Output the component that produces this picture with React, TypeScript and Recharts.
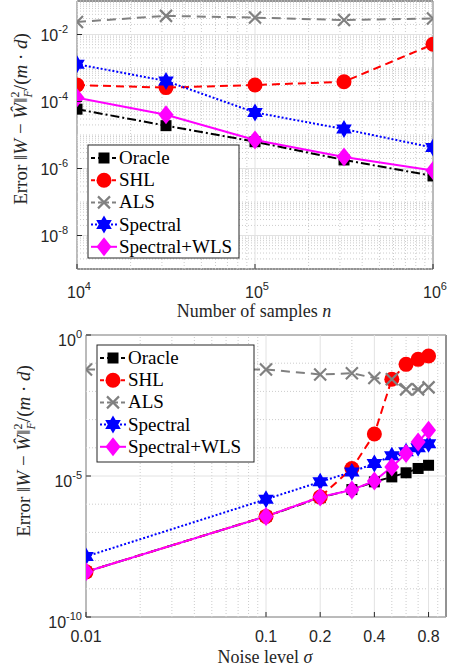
import React from "react";
import {
  LineChart,
  Line,
  XAxis,
  YAxis,
  ReferenceLine,
  ReferenceArea,
} from "recharts";

// ---------- top panel: error vs number of samples ----------
const samplesN = [1e4, 31623, 1e5, 316228, 1e6];
const nOracle = [5.9e-5, 1.9e-5, 6.3e-6, 1.8e-6, 6.0e-7];
const nSHL = [3.1e-4, 2.6e-4, 3.1e-4, 3.9e-4, 5.1e-3];
const nALS = [0.0237, 0.036, 0.032, 0.027, 0.03];
const nSpectral = [1.3e-3, 4.1e-4, 4.7e-5, 1.5e-5, 4.2e-6];
const nWLS = [1.3e-4, 4.0e-5, 7.1e-6, 2.2e-6, 8.7e-7];

const nTicksX = [1e4, 1e5, 1e6];
const nTicksY = [1e-8, 1e-6, 1e-4, 1e-2];

// ---------- bottom panel: error vs noise level ----------
const noiseSigma = [0.01, 0.1, 0.2, 0.3, 0.4, 0.5, 0.6, 0.7, 0.8];
const sOracle = [4e-9, 3.7e-7, 1.7e-6, 3.3e-6, 6.2e-6, 9.3e-6, 1.3e-5, 1.85e-5, 2.4e-5];
const sSHL = [4e-9, 3.7e-7, 1.8e-6, 1.85e-5, 3.1e-4, 0.027, 0.091, 0.137, 0.18];
const sALS = [0.06, 0.06, 0.04, 0.044, 0.03, 0.027, 0.0118, 0.0118, 0.0139];
const sSpectral = [1.4e-8, 1.5e-6, 6.2e-6, 1.4e-5, 2.8e-5, 5.2e-5, 7.2e-5, 1.0e-4, 1.4e-4];
const sWLS = [4e-9, 3.7e-7, 1.8e-6, 3.2e-6, 6.7e-6, 2.1e-5, 6.3e-5, 1.6e-4, 4.2e-4];

const sTicksX = [0.01, 0.1, 0.2, 0.4, 0.8];
const sTicksY = [1e-10, 1e-5, 1];

const seriesNames = ["Oracle", "SHL", "ALS", "Spectral", "Spectral+WLS"];
const seriesKeys = ["oracle", "shl", "als", "spectral", "wls"];

const AXIS = "#262626";
const SERIF = "'Liberation Serif', 'Times New Roman', serif";
const SANS = "'Liberation Sans', Arial, sans-serif";
const MAJOR = "#e2e2e2";
const MINOR = "#cccccc";

const styles: Record<string, { color: string; dash?: string; marker: string }> = {
  oracle: { color: "#000000", dash: "9 3 2 3", marker: "square" },
  shl: { color: "#ff0000", dash: "8 5", marker: "circle" },
  als: { color: "#808080", dash: "9 6", marker: "x" },
  spectral: { color: "#0000ff", dash: "2 2", marker: "star" },
  wls: { color: "#ff00ff", marker: "diamond" },
};

const buildRows = (xs: number[], cols: number[][]) =>
  xs.map((x, i) => {
    const row: Record<string, number> = { x };
    seriesKeys.forEach((k, j) => (row[k] = cols[j][i]));
    return row;
  });

const samplesData = buildRows(samplesN, [nOracle, nSHL, nALS, nSpectral, nWLS]);
const noiseData = buildRows(noiseSigma, [sOracle, sSHL, sALS, sSpectral, sWLS]);

// log grid helpers
const decades = (lo: number, hi: number) => {
  const out: number[] = [];
  for (let e = lo; e <= hi; e++) out.push(Math.pow(10, e));
  return out;
};
const minorsOf = (lo: number, hi: number) => {
  const out: number[] = [];
  for (let e = lo; e < hi; e++) for (let m = 2; m <= 9; m++) out.push(m * Math.pow(10, e));
  return out;
};

// grid values
const nGridYMinor = [...minorsOf(-9, -1), ...decades(-9, -1).filter((v) => !nTicksY.includes(v))];
const nGridXMinor = minorsOf(4, 6);
const sGridYMinor = decades(-10, 0).filter((v) => !sTicksY.includes(v));
const sGridXMinor = [...minorsOf(-2, -1), 0.3, 0.5, 0.6, 0.7, 0.9];

const Marker = ({ kind, cx, cy, color }: { kind: string; cx: number; cy: number; color: string }) => {
  if (cx == null || cy == null || isNaN(cx) || isNaN(cy)) return null;
  if (kind === "square")
    return <rect x={cx - 5.5} y={cy - 5.5} width={11} height={11} fill={color} />;
  if (kind === "circle") return <circle cx={cx} cy={cy} r={7.5} fill={color} />;
  if (kind === "x")
    return (
      <path
        d={`M${cx - 6},${cy - 6}L${cx + 6},${cy + 6}M${cx - 6},${cy + 6}L${cx + 6},${cy - 6}`}
        stroke={color}
        strokeWidth={2.2}
      />
    );
  if (kind === "star") {
    const R = 9;
    const pts = Array.from({ length: 12 }, (_, k) => {
      const a = ((-90 + 30 * k) * Math.PI) / 180;
      const r = k % 2 === 0 ? R : R / Math.sqrt(3);
      return `${cx + r * Math.cos(a)},${cy + r * Math.sin(a)}`;
    }).join(" ");
    return <polygon points={pts} fill={color} />;
  }
  return (
    <polygon
      points={`${cx},${cy - 9.5} ${cx + 7.5},${cy} ${cx},${cy + 9.5} ${cx - 7.5},${cy}`}
      fill={color}
    />
  );
};

const PowTickX = ({ x, y, payload }: any) => {
  const e = Math.round(Math.log10(payload.value));
  return (
    <g>
      <line x1={x} x2={x} y1={y} y2={y - 5} stroke={AXIS} />
      <text x={x + 2} y={y + 29} textAnchor="middle" fontFamily={SANS} fontSize={16} fill={AXIS}>
        <tspan>10</tspan>
        <tspan dy={-8} fontSize={11}>{e}</tspan>
      </text>
    </g>
  );
};

const makePowTickY = (gap: number, dyBase: number) => ({ x, y, payload }: any) => {
  const e = Math.round(Math.log10(payload.value));
  return (
    <g>
      <line x1={x} x2={x + 5} y1={y} y2={y} stroke={AXIS} />
      <text x={x - gap} y={y + dyBase} textAnchor="end" fontFamily={SANS} fontSize={16} fill={AXIS}>
        <tspan>10</tspan>
        <tspan dy={-8} fontSize={11}>{e}</tspan>
      </text>
    </g>
  );
};

const PlainTickX = ({ x, y, payload }: any) => (
  <g>
    <line x1={x} x2={x} y1={y} y2={y - 5} stroke={AXIS} />
    <text x={x} y={y + 25} textAnchor="middle" fontFamily={SANS} fontSize={16} fill={AXIS}>
      {payload.value}
    </text>
  </g>
);

const gridLines = (xMinor: number[], xMajor: number[], yMinor: number[], yMajor: number[]) => [
  ...xMinor.map((v) => (
    <ReferenceLine key={`xm${v}`} x={v} stroke={MINOR} strokeDasharray="1 2" strokeWidth={1} />
  )),
  ...yMinor.map((v) => (
    <ReferenceLine key={`ym${v}`} y={v} stroke={MINOR} strokeDasharray="1 2" strokeWidth={1} />
  )),
  ...xMajor.map((v) => <ReferenceLine key={`xM${v}`} x={v} stroke={MAJOR} strokeWidth={1} />),
  ...yMajor.map((v) => <ReferenceLine key={`yM${v}`} y={v} stroke={MAJOR} strokeWidth={1} />),
];

const ErrorTitle = ({ x, y }: { x: number; y: number }) => (
  <g transform={`translate(${x},${y}) rotate(-90)`}>
    <text x={0} y={0} textAnchor="middle" fontFamily={SERIF} fontSize={19} fill={AXIS}>
      <tspan>Error ‖</tspan>
      <tspan fontStyle="italic">W</tspan>
      <tspan> − </tspan>
      <tspan fontStyle="italic">Ŵ</tspan>
      <tspan>‖</tspan>
      <tspan dy={-8} fontSize={12}>2</tspan>
      <tspan dx={-6} dy={13} fontSize={12} fontStyle="italic">F</tspan>
      <tspan dy={-5}>/(</tspan>
      <tspan fontStyle="italic">m</tspan>
      <tspan> · </tspan>
      <tspan fontStyle="italic">d</tspan>
      <tspan>)</tspan>
    </text>
  </g>
);

const LegendBox = ({ x, y, w, h }: { x: number; y: number; w: number; h: number }) => (
  <g>
    <rect x={x} y={y} width={w} height={h} fill="#fff" stroke={AXIS} strokeWidth={1} />
    {seriesKeys.map((k, i) => {
      const st = styles[k];
      const cy = y + 13 + i * 22.2;
      return (
        <g key={k}>
          <line
            x1={x + 3}
            x2={x + 29}
            y1={cy}
            y2={cy}
            stroke={st.color}
            strokeWidth={2}
            strokeDasharray={k === "spectral" ? "2 2" : k === "wls" ? undefined : "4 3"}
          />
          <Marker kind={st.marker} cx={x + 16} cy={cy} color={st.color} />
          <text x={x + 31} y={cy + 6} fontFamily={SERIF} fontSize={19} fill="#000">
            {seriesNames[i]}
          </text>
        </g>
      );
    })}
  </g>
);

const renderSeries = () =>
  seriesKeys.map((k) => {
    const st = styles[k];
    return (
      <Line
        key={k}
        type="linear"
        dataKey={k}
        stroke={st.color}
        strokeWidth={2}
        strokeDasharray={st.dash}
        isAnimationActive={false}
        dot={(p: any) => (
          <Marker key={`${k}-${p.index}`} kind={st.marker} cx={p.cx} cy={p.cy} color={st.color} />
        )}
        activeDot={false}
      />
    );
  });

export default function App() {
  return (
    <div
      style={{
        position: "absolute",
        left: 0,
        top: 0,
        width: 450,
        height: 670,
        background: "#fff",
        overflow: "hidden",
      }}
    >
      {/* top panel */}
      <div style={{ position: "absolute", left: 0, top: 0, width: 450, height: 325 }}>
        <LineChart width={450} height={325} data={samplesData} margin={{ top: 1, right: 17, left: 0, bottom: 0 }}>
          <XAxis
            dataKey="x"
            type="number"
            scale="log"
            domain={[1e4, 1e6]}
            ticks={nTicksX}
            allowDataOverflow
            height={56}
            axisLine={false}
            tickLine={false}
            tickSize={0}
            tickMargin={0}
            tick={PowTickX}
            interval={0}
          />
          <YAxis
            type="number"
            scale="log"
            domain={[1e-9, 1e-1]}
            ticks={nTicksY}
            allowDataOverflow
            width={77}
            axisLine={false}
            tickLine={false}
            tickSize={0}
            tickMargin={0}
            tick={makePowTickY(9, 6)}
            interval={0}
          />
          {gridLines(nGridXMinor, nTicksX, nGridYMinor, nTicksY)}
          <ReferenceArea x1={1e4} x2={1e6} y1={1e-9} y2={1e-1} fill="none" stroke={AXIS} strokeWidth={1} />
          {renderSeries()}
        </LineChart>
        <svg width={450} height={325} style={{ position: "absolute", left: 0, top: 0, pointerEvents: "none" }}>
          <ErrorTitle x={27} y={119} />
          <text x={254} y={317} textAnchor="middle" fontFamily={SERIF} fontSize={18} fill={AXIS}>
            <tspan>Number of samples </tspan>
            <tspan fontStyle="italic">n</tspan>
          </text>
          <LegendBox x={88} y={145} w={151} h={113} />
        </svg>
      </div>

      {/* bottom panel */}
      <div style={{ position: "absolute", left: 0, top: 320, width: 450, height: 350 }}>
        <LineChart width={450} height={350} data={noiseData} margin={{ top: 15, right: 4, left: 0, bottom: 0 }}>
          <XAxis
            dataKey="x"
            type="number"
            scale="log"
            domain={[0.01, 1]}
            ticks={sTicksX}
            allowDataOverflow
            height={53}
            axisLine={false}
            tickLine={false}
            tickSize={0}
            tickMargin={0}
            tick={PlainTickX}
            interval={0}
          />
          <YAxis
            type="number"
            scale="log"
            domain={[1e-10, 1]}
            ticks={sTicksY}
            allowDataOverflow
            width={86}
            axisLine={false}
            tickLine={false}
            tickSize={0}
            tickMargin={0}
            tick={makePowTickY(4, 11)}
            interval={0}
          />
          {gridLines(sGridXMinor, sTicksX, sGridYMinor, sTicksY)}
          <ReferenceArea x1={0.01} x2={1} y1={1e-10} y2={1} fill="none" stroke={AXIS} strokeWidth={1} />
          {renderSeries()}
        </LineChart>
        <svg width={450} height={350} style={{ position: "absolute", left: 0, top: 0, pointerEvents: "none" }}>
          <ErrorTitle x={30} y={131} />
          <text x={265} y={343} textAnchor="middle" fontFamily={SERIF} fontSize={18} fill={AXIS}>
            <tspan>Noise level </tspan>
            <tspan fontStyle="italic">σ</tspan>
          </text>
          <LegendBox x={97} y={25} w={157} h={117} />
        </svg>
      </div>
    </div>
  );
}
